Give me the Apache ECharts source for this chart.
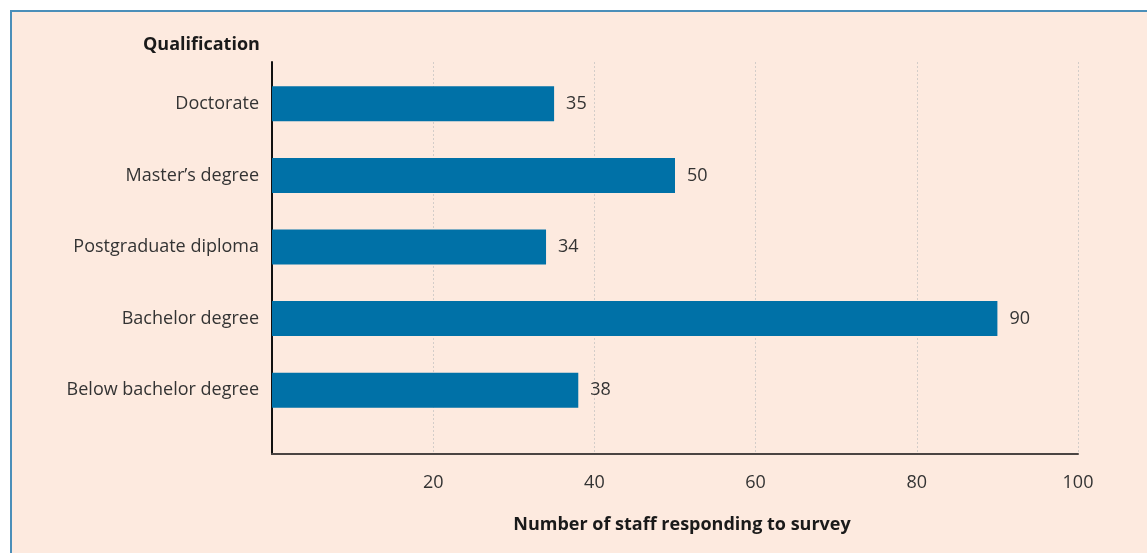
<!DOCTYPE html>
<html>
<head>
<meta charset="utf-8">
<script src="https://cdn.jsdelivr.net/npm/echarts@6/dist/echarts.min.js"></script>
<style>
  html, body { margin: 0; padding: 0; background: #fff; overflow: hidden; }
  #frame {
    position: absolute; left: 10px; top: 10px; width: 1160px; height: 560px;
    background: #fdeadf; border-left: 2px solid #4b8fb9; border-top: 2px solid #4b8fb9;
  }
  #chart { position: absolute; left: 0; top: 0; width: 1147px; height: 553px; }
</style>
</head>
<body>
<div id="frame"></div>
<div id="chart"></div>
<script>
// qualification categories, top to bottom
const categories = ["Doctorate", "Master\u2019s degree", "Postgraduate diploma", "Bachelor degree", "Below bachelor degree"];
const staffCounts = [35, 50, 34, 90, 38];
const xTicks = [20, 40, 60, 80, 100];

const FONT = "Open Sans";
const chart = echarts.init(document.getElementById("chart"), null, { renderer: "canvas" });

chart.setOption({
  backgroundColor: "transparent",
  animation: false,
  textStyle: { fontFamily: FONT },
  title: {
    text: "Qualification",
    left: 143, top: 36, padding: 0,
    textStyle: { fontFamily: FONT, fontSize: 18, fontWeight: "bold", color: "#1a1a1a" }
  },
  grid: [
    // axis frame: lines, gridlines, tick labels
    { left: 272, right: 69, top: 62, bottom: 99 },
    // bars
    { left: 272, right: 69, top: 68, bottom: 127 }
  ],
  xAxis: [
    {
      gridIndex: 0, type: "value", min: 0, max: xTicks[xTicks.length - 1], interval: 20,
      axisLine: { show: true, lineStyle: { color: "#4a4442", width: 2 } },
      axisTick: { show: false },
      axisLabel: {
        margin: 20, fontSize: 18, color: "#333",
        formatter: v => (xTicks.includes(v) ? String(v) : "")
      },
      splitLine: { show: true, lineStyle: { color: "#d3cdc9", type: [2, 2], width: 1 } },
      name: "Number of staff responding to survey",
      nameLocation: "middle", nameGap: 62,
      nameTextStyle: { fontSize: 18, fontWeight: "bold", color: "#1a1a1a", padding: [0, 0, 0, 14] }
    },
    { gridIndex: 1, type: "value", min: 0, max: 100, show: false }
  ],
  yAxis: [
    {
      gridIndex: 0, type: "value", min: 0, max: 1,
      axisLine: { show: true, lineStyle: { color: "#111", width: 2 } },
      axisTick: { show: false }, axisLabel: { show: false }, splitLine: { show: false }
    },
    {
      gridIndex: 1, type: "category", data: categories, inverse: true,
      axisLine: { show: false }, axisTick: { show: false },
      axisLabel: { margin: 13, fontSize: 18, color: "#333" }
    }
  ],
  series: [{
    type: "bar", xAxisIndex: 1, yAxisIndex: 1,
    data: staffCounts, barWidth: 35,
    itemStyle: { color: "#0071a7" },
    label: { show: true, position: "right", distance: 12, fontSize: 18, color: "#333" }
  }]
});
</script>
</body>
</html>
